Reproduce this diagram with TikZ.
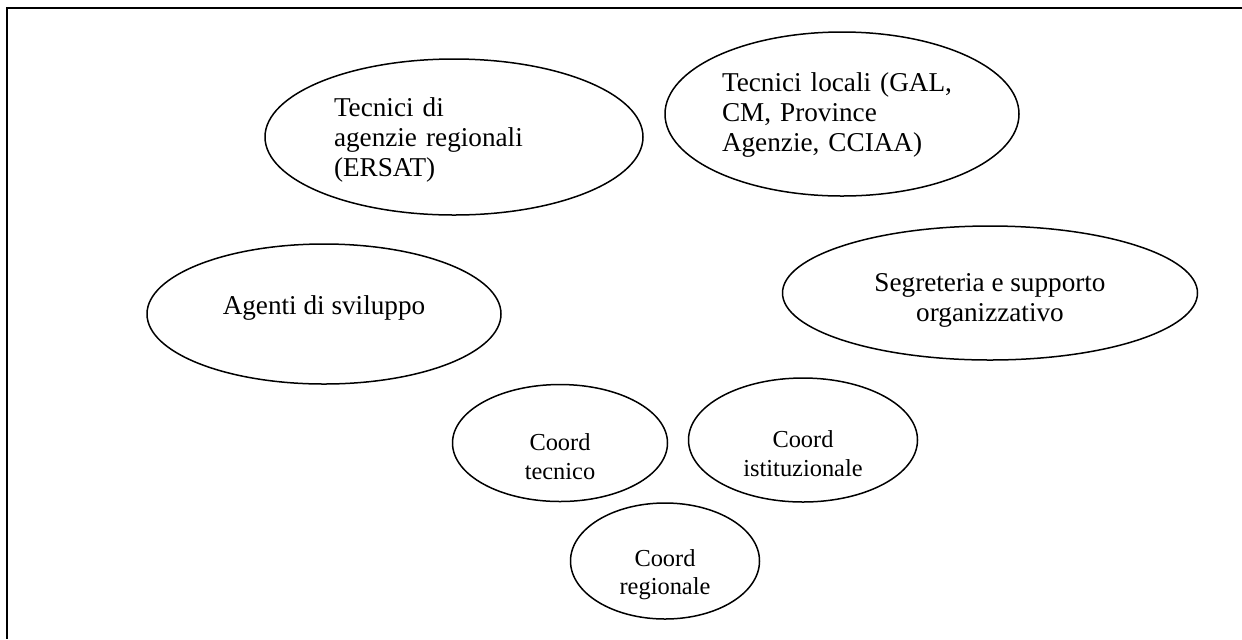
\documentclass[tikz,border=0pt]{standalone}
\usepackage{fontspec}
\setmainfont{Liberation Serif}
\usepackage{tikz}
\usetikzlibrary{shapes.geometric,positioning}
\newcommand{\topstrut}[1]{\rule{0pt}{#1}}
\newcommand{\botstrut}[1]{\rule[-#1]{0pt}{0pt}}
\tikzset{
  bubble/.style={ellipse,draw=black,line width=0.75pt,inner sep=0pt,align=center},
  bigtext/.style={font=\fontsize{13.6}{15}\selectfont},
  smalltext/.style={font=\fontsize{12.2}{14.2}\selectfont}
}

\begin{document}
\begin{tikzpicture}[x=0.5pt,y=-0.5pt]
    \useasboundingbox (0,0) rectangle (1242,639);
    \draw[line width=1pt] (1242,8) -- (7,8) -- (7,639);

    \node[bubble,bigtext,minimum width=189pt,minimum height=78pt,text width=120pt,align=left]
      (agenzie) at (454,137) {\topstrut{12pt}Tecnici di\\agenzie regionali\\(ERSAT)};
    \node[bubble,bigtext,minimum width=177pt,minimum height=82pt,text width=120pt,align=left]
      (locali) at (842,114) {\topstrut{10pt}Tecnici locali (GAL,\\CM, Province\\Agenzie, CCIAA)};
    \node[bubble,bigtext,minimum width=177pt,minimum height=70pt]
      (agenti) at (324,314) {Agenti di sviluppo\botstrut{9pt}};
    \node[bubble,bigtext,minimum width=207.5pt,minimum height=67pt]
      (segreteria) at (990,293) {\topstrut{16.3pt}Segreteria e supporto\\organizzativo};

    \node[bubble,smalltext,minimum width=107.5pt,minimum height=58.5pt]
      (tecnico) at (560,443) {\topstrut{22pt}Coord\\tecnico};
    \node[bubble,smalltext,minimum width=114.5pt,minimum height=62pt]
      (istituz) at (803,440) {\topstrut{22pt}Coord\\istituzionale};
    \node[bubble,smalltext,minimum width=94.5pt,minimum height=58pt]
      (regionale) at (665,561) {\topstrut{22pt}Coord\\regionale};
  \end{tikzpicture}
\end{document}
